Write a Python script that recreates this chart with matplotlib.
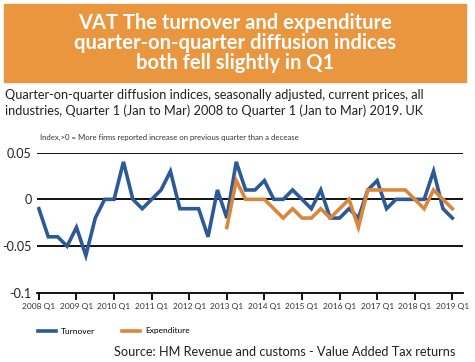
import numpy as np
import matplotlib
matplotlib.use("Agg")
import matplotlib.pyplot as plt
from matplotlib.patches import Rectangle

# quarters 2008 Q1 .. 2019 Q1
quarters = [f"{y} Q{q}" for y in range(2008, 2020) for q in range(1, 5)][:45]
tick_labels = [f"{y} Q1" for y in range(2008, 2020)]

turnover = [-0.01, -0.04, -0.04, -0.05, -0.03, -0.06, -0.02, 0.0, 0.0, 0.04,
            0.0, -0.01, 0.0, 0.01, 0.03, -0.01, -0.01, -0.01, -0.04, 0.01,
            -0.02, 0.04, 0.01, 0.01, 0.02, 0.0, 0.0, 0.01, 0.0, -0.01,
            0.01, -0.02, -0.02, -0.01, -0.02, 0.01, 0.02, -0.01, 0.0, 0.0,
            0.0, 0.0, 0.03, -0.01, -0.02]
# expenditure starts 2013 Q1
expenditure = [-0.03, 0.02, 0.0, 0.0, 0.0, -0.01, -0.02, -0.01, -0.02, -0.02,
               -0.01, -0.02, -0.01, 0.0, -0.03, 0.01, 0.01, 0.01, 0.01, 0.01,
               0.0, -0.01, 0.01, 0.0, -0.01]
exp_start = 20

blue = "#2c5a98"
orange = "#da873c"
font = "Lato"

fig = plt.figure(figsize=(4.75, 3.62), dpi=100)
fig.patch.set_facecolor("white")

# title banner
fig.patches.append(Rectangle((4/475, 1-82/362), 462/475, 78/362,
                             transform=fig.transFigure, color="#e9963f", zorder=0))
fig.text(235/475, 1-43/362,
         "VAT The turnover and expenditure\nquarter-on-quarter diffusion indices\nboth fell slightly in Q1",
         ha="center", va="center", color="white", fontsize=14.5, fontweight="bold",
         family=font, linespacing=1.02)

fig.text(5/475, 1-103/362,
         "Quarter-on-quarter diffusion indices, seasonally adjusted, current prices, all\n"
         "industries, Quarter 1 (Jan to Mar) 2008 to Quarter 1 (Jan to Mar) 2019. UK",
         ha="left", va="center", fontsize=9.2, family=font, color="#222222",
         linespacing=1.3)
fig.text(40/475, 1-137/362,
         "Index,>0 = More firms reported increase on previous quarter than a decease",
         ha="left", va="center", fontsize=5.6, family=font, color="#333333")

ax = fig.add_axes([37/475, 1-293/362, (462.7-37)/475, (293-152.5)/362])
x = np.arange(len(turnover))
ax.plot(x, turnover, color=blue, lw=2.6, label="Turnover", zorder=3,
        solid_joinstyle="miter")
xe = np.arange(exp_start, exp_start + len(expenditure))
ax.plot(xe, expenditure, color=orange, lw=2.6, label="Expenditure", zorder=4,
        solid_joinstyle="miter")

ax.set_xlim(-0.2, 45.1)
ax.set_ylim(-0.1, 0.05)
ax.set_yticks([0.05, 0, -0.05, -0.1])
ax.set_yticklabels(["0.05", "0", "-0.05", "-0.1"], family=font, fontsize=9,
                   color="#222222")
for yv in [0.05, 0, -0.05]:
    ax.axhline(yv, color="black", lw=1.3, zorder=1)
for s in ["top", "right", "left"]:
    ax.spines[s].set_visible(False)
ax.spines["bottom"].set_linewidth(1.3)
ax.set_xticks(np.arange(0, 45, 4))
ax.set_xticklabels(tick_labels, family=font, fontsize=6, color="#333333")
ax.tick_params(axis="x", direction="out", length=5, width=1.3, pad=2)
ax.tick_params(axis="y", length=0, pad=4)
ax.patch.set_alpha(0)

leg = fig.legend(loc="center left", bbox_to_anchor=(30/475, 1-331/362), ncol=2,
                 frameon=False, prop={"family": font, "size": 6},
                 handlelength=2.2, columnspacing=3.2, handletextpad=0.6)

fig.text(455/475, 1-352/362, "Source: HM Revenue and customs - Value Added Tax returns",
         ha="right", va="center", fontsize=9.2, family=font, color="#222222")

fig.savefig("out.png", dpi=100)
